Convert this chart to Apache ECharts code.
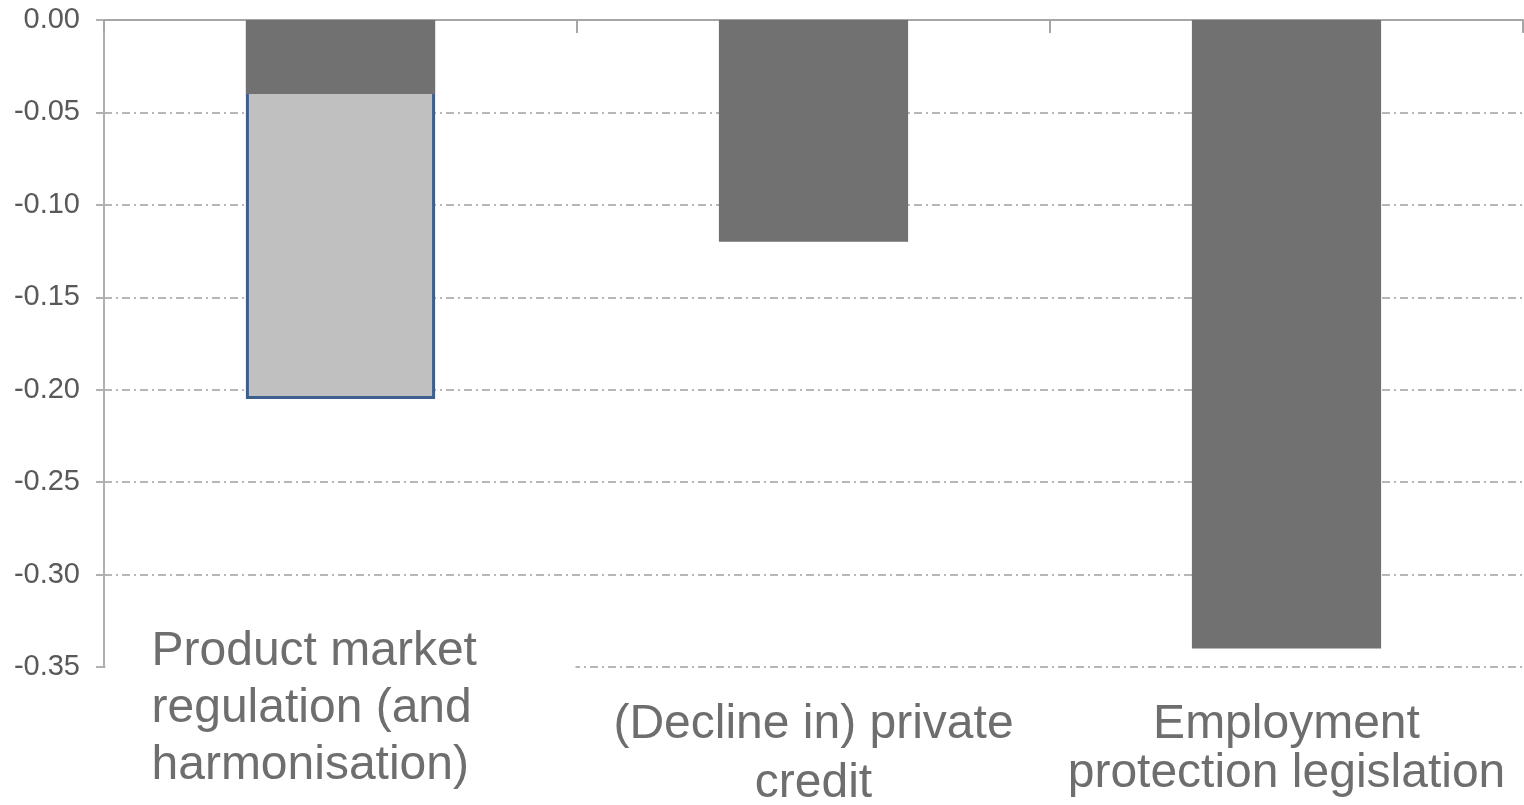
<!DOCTYPE html>
<html>
<head>
<meta charset="utf-8">
<script src="https://cdn.jsdelivr.net/npm/echarts@6/dist/echarts.min.js"></script>
<style>
html,body{margin:0;padding:0;background:#fff;}
#chart{width:1524px;height:805px;}
</style>
</head>
<body>
<div id="chart"></div>
<script>
var categories = [
  'Product market\nregulation (and\nharmonisation)',
  '(Decline in) private\ncredit',
  'Employment\nprotection legislation'
];
var lightValues = [-0.205, null, null];
var darkValues = [-0.04, -0.12, -0.34];
var yMin = -0.35, yMax = 0, yStep = 0.05;

var chart = echarts.init(document.getElementById('chart'));
var font = "'Liberation Sans', Arial, sans-serif";
var labelData = categories.map(function (c, i) {
  if (i === 1) return { value: c, textStyle: { lineHeight: 59, padding: [72, 0, 0, 0] } };
  if (i === 2) return { value: c, textStyle: { lineHeight: 49, padding: [77, 0, 0, 0] } };
  return { value: c };
});
chart.setOption({
  animation: false,
  backgroundColor: '#ffffff',
  grid: { left: 104, right: 1, top: 20, bottom: 138, containLabel: false, outerBoundsMode: 'none' },
  xAxis: [
    {
      type: 'category',
      position: 'top',
      data: categories,
      axisLine: { show: true, onZero: false, lineStyle: { color: '#a6a6a6', width: 2 } },
      axisTick: { show: true, inside: true, length: 13, lineStyle: { color: '#a6a6a6', width: 2 } },
      axisLabel: { show: false },
      splitLine: { show: false }
    },
    {
      type: 'category',
      position: 'bottom',
      offset: -44,
      data: labelData,
      axisLine: { show: false },
      axisTick: { show: false },
      splitLine: { show: false },
      axisLabel: {
        show: true,
        interval: 0,
        margin: 0,
        hideOverlap: false,
        verticalAlign: 'top',
        fontFamily: font,
        fontSize: 48,
        lineHeight: 57,
        color: '#6e6e6e',
        formatter: function (v, i) {
          return i === 0 ? '{a|' + v + '}' : v;
        },
        rich: {
          a: {
            fontFamily: font,
            fontSize: 48,
            lineHeight: 57,
            color: '#6e6e6e',
            width: 424,
            align: 'left',
            padding: [0, 0, 0, 46],
            backgroundColor: '#ffffff'
          }
        }
      }
    }
  ],
  yAxis: {
    type: 'value',
    min: yMin,
    max: yMax,
    interval: yStep,
    axisLine: { show: true, onZero: false, lineStyle: { color: '#b0b0b0', width: 2 } },
    axisTick: { show: true, length: 8, lineStyle: { color: '#b0b0b0', width: 2 } },
    axisLabel: {
      margin: 24,
      fontFamily: font,
      fontSize: 29,
      color: '#595959',
      formatter: function (v) { return v.toFixed(2); }
    },
    splitLine: {
      show: true,
      lineStyle: { color: '#a0a0a0', width: 1.5, type: [8, 4, 2, 4] }
    }
  },
  series: [
    {
      name: 'light',
      type: 'bar',
      xAxisIndex: 0,
      barWidth: '40%',
      barGap: '-100%',
      data: lightValues,
      itemStyle: { color: '#c0c0c0', borderColor: '#3c5f8e', borderWidth: 3 },
      z: 2
    },
    {
      name: 'dark',
      type: 'bar',
      xAxisIndex: 0,
      barWidth: '40%',
      barGap: '-100%',
      data: darkValues,
      itemStyle: { color: '#717171' },
      z: 3
    }
  ]
});
</script>
</body>
</html>
